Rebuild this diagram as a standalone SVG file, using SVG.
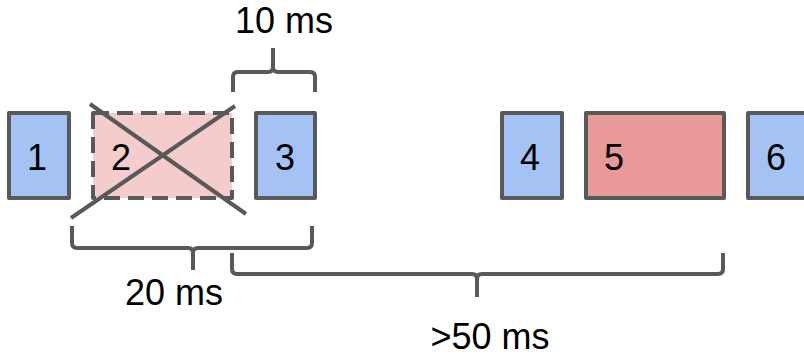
<svg xmlns="http://www.w3.org/2000/svg" width="804" height="355" viewBox="0 0 804 355">
<style>
.box{stroke:#595959;stroke-width:4;stroke-linejoin:round}
.blue{fill:#a4c2f4}
.pink{fill:#f4cccc}
.red{fill:#ea9999}
.ln{fill:none;stroke:#595959;stroke-width:4;stroke-linecap:butt}
text{font-family:"Liberation Sans",Arial,sans-serif;font-size:36px;fill:#000}
.lbl{font-size:36px;text-anchor:middle}
</style>
<rect width="804" height="355" fill="#fff"/>
<g id="node1"><rect class="box blue" x="9" y="113" width="60" height="85"/><text x="37" y="170" text-anchor="middle">1</text></g>
<g id="node2"><rect class="box pink" x="93" y="113" width="139" height="85" stroke-dasharray="16,8"/><text x="121" y="170" text-anchor="middle">2</text></g>
<g id="node3"><rect class="box blue" x="256" y="113" width="59" height="85"/><text x="285" y="170" text-anchor="middle">3</text></g>
<g id="node4"><rect class="box blue" x="502" y="113" width="60" height="85"/><text x="530" y="170" text-anchor="middle">4</text></g>
<g id="node5"><rect class="box red" x="586" y="113" width="138" height="85"/><text x="614" y="170" text-anchor="middle">5</text></g>
<g id="node6"><rect class="box blue" x="748" y="113" width="60" height="85"/><text x="776" y="170" text-anchor="middle">6</text></g>
<g id="connectors">
<path class="ln" d="M90,104 L246,214 M235,106 L71,218"/>
<path class="ln" d="M233,92 V77 Q233,72 238,72 H268 Q273,72 273,67 V48 M273,67 Q273,72 278,72 H310 Q315,72 315,77 V92"/>
<path class="ln" d="M72,226 V243 Q72,248 77,248 H188 Q193,248 193,253 V270 M193,253 Q193,248 198,248 H307 Q312,248 312,243 V226"/>
<path class="ln" d="M232,253 V269 Q232,274 237,274 H472 Q477,274 477,279 V297 M477,279 Q477,274 482,274 H718 Q723,274 723,269 V253"/>
</g>
<text class="lbl" x="284" y="33">10 ms</text>
<text class="lbl" x="174" y="305">20 ms</text>
<text class="lbl" x="490" y="349">&gt;50 ms</text>
</svg>
